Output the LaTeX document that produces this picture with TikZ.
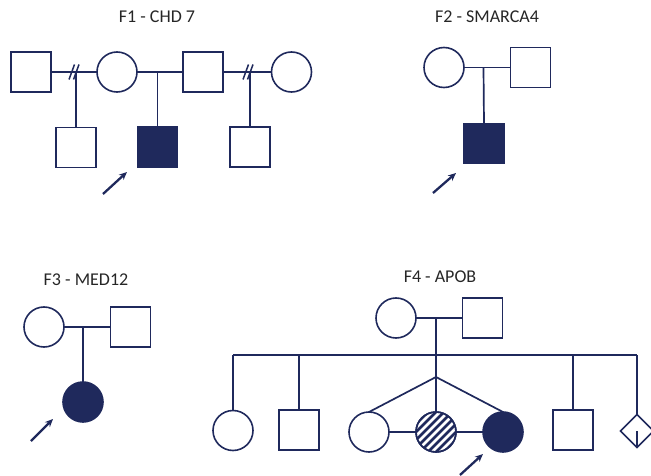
\documentclass[tikz,border=0pt]{standalone}
\usepackage{fontspec}
\setmainfont{Carlito}
\usetikzlibrary{shapes.geometric,arrows.meta}
\definecolor{navy}{RGB}{31,41,92}
\definecolor{txt}{RGB}{38,38,38}
\begin{document}
\begin{tikzpicture}[x=1pt,y=-1pt,
  every node/.style={inner sep=0pt,outer sep=0pt},
  male/.style={draw=navy,line width=1.6pt,rectangle,minimum size=40pt},
  female/.style={draw=navy,line width=1.6pt,circle,minimum size=40pt},
  unknown/.style={draw=navy,line width=1.6pt,diamond,minimum size=33pt},
  affected/.style={fill=navy},
  link/.style={draw=navy,line width=1.7pt},
  proband/.style={draw=navy,line width=2.3pt,-{Stealth[length=8pt,width=7pt]}},
  title/.style={text=txt,font=\fontsize{18}{20}\selectfont}]
\useasboundingbox (0,0) rectangle (651,476);

% ---------- F1 ----------
\node[title] (t1) at (157,17) {F1 - CHD 7};
\node[male]   (a1) at (31,72) {};
\node[female] (a2) at (117,72) {};
\node[male]   (a3) at (203,72) {};
\node[female] (a4) at (291.5,72) {};
\node[male]   (a5) at (76,147.5) {};
\node[male,affected] (a6) at (157.5,147) {};
\node[male]   (a7) at (250,147) {};
\draw[link] (a1.east) -- (a2.west);
\draw[link] (a2.east) -- (a3.west);
\draw[link] (a3.east) -- (a4.west);
\coordinate (m1) at (76,72);
\coordinate (m2) at (157.5,72);
\coordinate (m3) at (250,72);
\draw[link] (m1) -- (a5.north);
\draw[link] (m2) -- (a6.north);
\draw[link] (m3) -- (a7.north);
\draw[link,line width=1.5pt] (69,79.5) -- (74.5,64.5) (73.5,79.5) -- (79,64.5);
\draw[link,line width=1.5pt] (243,79.5) -- (248.5,64.5) (247.5,79.5) -- (253,64.5);
\coordinate (p1s) at (103,194);
\coordinate (p1e) at (127,172);
\draw[proband] (p1s) -- (p1e);

% ---------- F2 ----------
\node[title] (t2) at (487,17) {F2 - SMARCA4};
\node[female] (b1) at (444,67.5) {};
\node[male]   (b2) at (530.5,67.5) {};
\node[male,affected] (b3) at (484,143.5) {};
\draw[link] (b1.east) -- (b2.west);
\coordinate (m4) at (483.5,67.5);
\draw[link] (m4) -- (b3.north);
\coordinate (p2s) at (433,193);
\coordinate (p2e) at (456,173);
\draw[proband] (p2s) -- (p2e);

% ---------- F3 ----------
\node[title] (t3) at (86,280) {F3 - MED12};
\node[female] (c1) at (44,327) {};
\node[male]   (c2) at (130.5,327) {};
\node[female,affected] (c3) at (83,402) {};
\draw[link] (c1.east) -- (c2.west);
\coordinate (m5) at (83,327);
\draw[link] (m5) -- (c3.north);
\coordinate (p3s) at (31,441);
\coordinate (p3e) at (53,419);
\draw[proband] (p3s) -- (p3e);

% ---------- F4 ----------
\node[title] (t4) at (440,277) {F4 - APOB};
\node[female] (d1) at (396,318) {};
\node[male]   (d2) at (482.5,318) {};
\draw[link] (d1.east) -- (d2.west);
\coordinate (m6) at (436,318);
\coordinate (sl) at (233,355);
\coordinate (sr) at (637,355);
\coordinate (apex) at (436,377);
\draw[link] (m6) -- (apex);
\draw[link] (sl) -- (sr);
\node[female] (e1) at (233,430.5) {};
\node[male]   (e2) at (299,430) {};
\node[female] (e3) at (369,432) {};
\node[female] (e4) at (436,432) {};
\node[female,affected] (e5) at (503,432) {};
\node[male]   (e6) at (573,430) {};
\node[unknown] (e7) at (637,431) {};
\begin{scope}
  \clip (e4.center) circle (20pt);
  \foreach \k in {-60,-52,...,60}
    \draw[navy,line width=2.8pt] (436+\k-30,432+30) -- (436+\k+30,432-30);
\end{scope}
\node[female] at (e4.center) {};
\draw[link] (sl) -- (e1.north);
\draw[link] (e2.north |- sl) -- (e2.north);
\draw[link] (e6.north |- sl) -- (e6.north);
\draw[link] (sr) -- (e7.north);
\draw[link] (apex) -- (e3.north);
\draw[link] (apex) -- (e4.north);
\draw[link] (apex) -- (e5.north);
\draw[link] (e3.east) -- (e4.west);
\draw[link] (e4.east) -- (e5.west);
\draw[link] (e7.center) -- (e7.south);
\coordinate (p4s) at (460,475);
\coordinate (p4e) at (483,454);
\draw[proband] (p4s) -- (p4e);
\end{tikzpicture}
\end{document}
